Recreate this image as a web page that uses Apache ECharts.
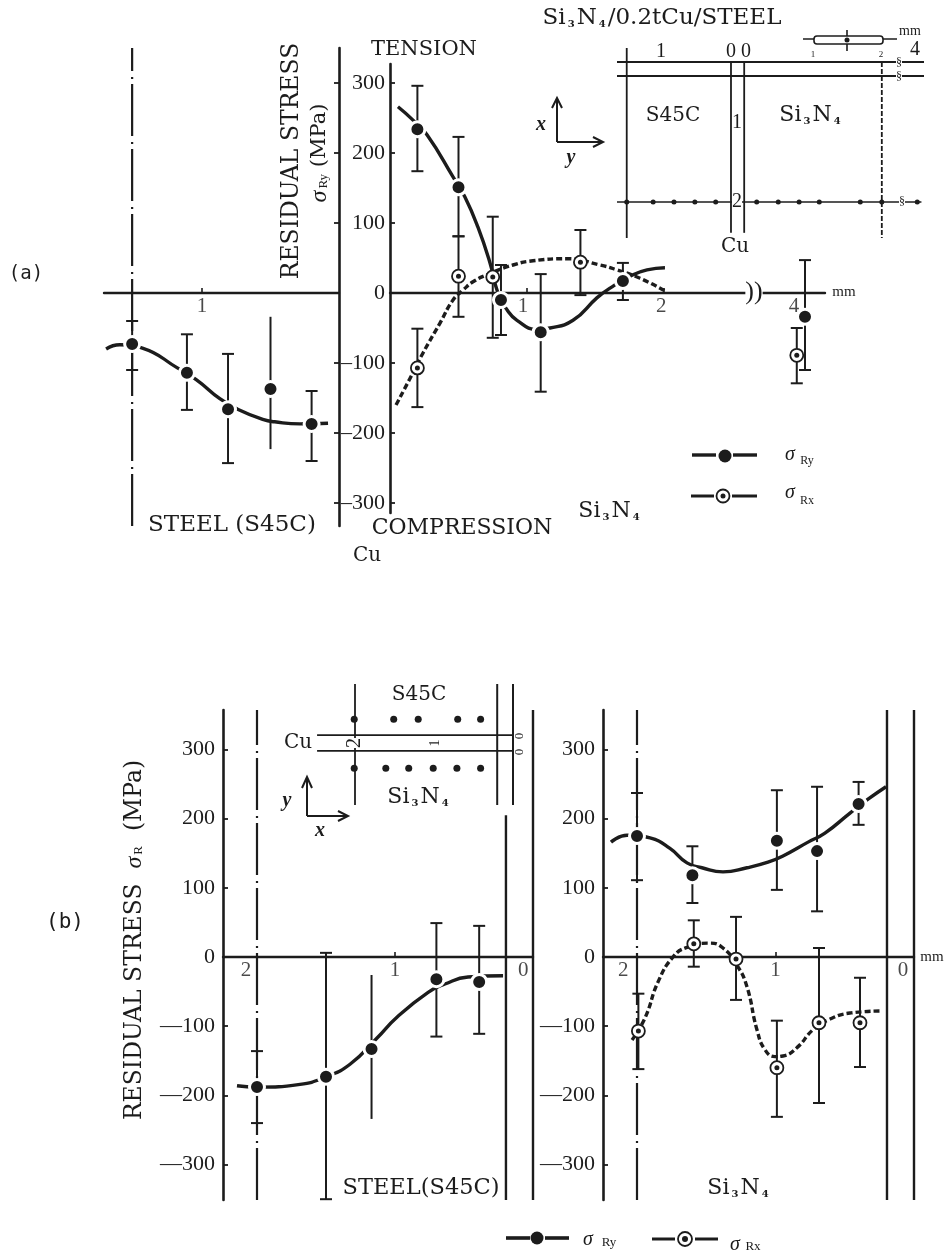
<!DOCTYPE html>
<html><head><meta charset="utf-8">
<style>html,body{margin:0;padding:0;background:#fff}#c{width:948px;height:1257px}</style>
<script src="https://cdn.jsdelivr.net/npm/echarts@6/dist/echarts.min.js"></script>
</head><body><div id="c"></div>
<script>
// ---------- axis labels ----------
const stressTicks = [-300,-200,-100,0,100,200,300];
const aLeftDistTicks = [1];
const aRightDistTicks = [1,2];
const aFarDistTicks = [4];
const bDistTicks = [1];
// where each distance number sits along its axis (printed slightly off its tick in the source)
const aLeftDistLabels = [1];
const aRightDistLabels = [0.97,1.98];
const aFarDistLabels = [3.92];
const bSteelDistLabels = [2.08,1,0.07];
const bSiDistLabels = [2.1,1,0.08];

// ---------- (a) steel side: sigma Ry ----------
const aSteelRyX    = [1.51,1.11,0.81,0.50,0.20];
const aSteelRyY    = [-73,-114,-166,-137,-187];
const aSteelRyLow  = [-110,-167,-243,-223,-240];
const aSteelRyHigh = [-40,-59,-87,-34,-140];
const aSteelRyCap  = [1,1,1,0,1];
const aSteelRyCurve = [[1.70,-80],[1.60,-74],[1.43,-79],[1.18,-107],[1.04,-124],[0.87,-151],[0.74,-166],[0.55,-181],[0.47,-184],[0.285,-187],[0.08,-186]];

// ---------- (a) Si3N4 side: sigma Ry ----------
const aSiRyX    = [0.20,0.50,0.81,1.10,1.70];
const aSiRyY    = [234,151,-10,-56,17];
const aSiRyLow  = [174,81,-60,-141,-10];
const aSiRyHigh = [296,223,40,27,43];
const aSiRyCurve = [[0.058,266],[0.168,247],[0.27,226],[0.46,166],[0.547,137],[0.642,94],[0.73,43],[0.788,0],[0.854,-24],[0.927,-39],[1.073,-52],[1.168,-50],[1.336,-39],[1.51,-7],[1.606,7],[1.774,26],[1.876,33],[2.007,36]];

// ---------- (a) Si3N4 side: sigma Rx ----------
const aSiRxX    = [0.20,0.50,0.75,1.39];
const aSiRxY    = [-107,24,23,44];
const aSiRxLow  = [-163,-34,-64,-3];
const aSiRxHigh = [-51,81,109,90];
const aSiRxCurve = [[0.044,-160],[0.146,-122],[0.24,-86],[0.365,-43],[0.46,-10],[0.533,4],[0.606,16],[0.708,26],[0.898,40],[1.044,46],[1.292,49],[1.533,40],[1.657,33],[1.825,21],[2.007,3]];

// ---------- (a) 4 mm points ----------
const aFarRyX = [4.0],  aFarRyY = [-34], aFarRyLow = [-110], aFarRyHigh = [47];
const aFarRxX = [3.94], aFarRxY = [-89], aFarRxLow = [-129], aFarRxHigh = [-50];

// ---------- (b) steel side: sigma Ry ----------
const bSteelRyX    = [2.0,1.5,1.17,0.70,0.39];
const bSteelRyY    = [-188,-173,-133,-32,-36];
const bSteelRyLow  = [-240,-350,-234,-115,-111];
const bSteelRyHigh = [-136,6,-26,49,45];
const bSteelRyCap  = [1,1,0,1,1];
const bSteelRyCurve = [[2.145,-186],[2.0,-188],[1.688,-184],[1.5,-173],[1.326,-155],[1.13,-117],[0.986,-87],[0.76,-51],[0.638,-39],[0.471,-29],[0.217,-27]];

// ---------- (b) Si3N4 side: sigma Ry ----------
const bSiRyX    = [2.0,1.6,0.99,0.70,0.40];
const bSiRyY    = [175,118,168,153,221];
const bSiRyLow  = [111,78,97,66,191];
const bSiRyHigh = [237,160,241,246,253];
const bSiRyCurve = [[2.188,166],[2.072,176],[1.906,172],[1.762,157],[1.639,136],[1.531,129],[1.379,123],[1.206,129],[1.054,137],[0.946,146],[0.765,166],[0.643,179],[0.462,208],[0.332,228],[0.202,246]];

// ---------- (b) Si3N4 side: sigma Rx ----------
const bSiRxX    = [1.99,1.59,1.285,0.99,0.686,0.39];
const bSiRxY    = [-107,19,-3,-160,-95,-95];
const bSiRxLow  = [-162,-14,-62,-231,-211,-159];
const bSiRxHigh = [-53,53,58,-92,13,-30];
const bSiRxCurve = [[2.036,-120],[1.942,-88],[1.848,-36],[1.74,0],[1.639,14],[1.473,20],[1.379,13],[1.278,-12],[1.206,-43],[1.134,-105],[1.076,-134],[1.004,-144],[0.946,-143],[0.845,-131],[0.729,-105],[0.621,-91],[0.462,-81],[0.231,-78]];

// ---------- inset specimen maps: measurement spots in mm ----------
const insetASpotsX = [-1.5,-1.12,-0.82,-0.52,-0.22,0.37,0.68,0.98,1.27,1.86,2.17,2.68];
const insetBTopX = [2.01,1.51,1.20,0.70,0.41];
const insetBBottomX = [2.01,1.61,1.32,1.01,0.71,0.41];

// ---------- drawing ----------
const ink = '#1c1c1c';
const SERIF = '"Liberation Serif",serif';
const WIDE = '"DejaVu Serif",serif';
const CHAIN = [52,5,2,6];
const series = [];
const pairs = (xs, ys) => xs.map((x,i)=>[x,ys[i]]);

function addLine(g, name, data, width, type){
  series.push({type:'line', name, xAxisIndex:g, yAxisIndex:g, data, symbol:'none', silent:true, z:2,
    lineStyle:{color:ink, width, type:type||'solid', cap:'butt'}});
}
function addCurve(g, name, data, dashed){
  series.push({type:'line', name, xAxisIndex:g, yAxisIndex:g, data, symbol:'none', smooth:0.5, silent:true, z:3,
    lineStyle:{color:ink, width:3.4, type:dashed?[6,3]:'solid', cap:'butt'}});
}
function addErr(g, name, xs, lows, highs, caps){
  series.push({type:'custom', name, xAxisIndex:g, yAxisIndex:g, z:4, silent:true,
    encode:{x:0,y:[1,2]},
    data:xs.map((x,i)=>[x,lows[i],highs[i],caps?caps[i]:1]),
    renderItem:(p,api)=>{
      const x=api.value(0), a=api.coord([x,api.value(1)]), b=api.coord([x,api.value(2)]);
      const st={stroke:ink,lineWidth:2}; const kids=[{type:'line',shape:{x1:a[0],y1:a[1],x2:b[0],y2:b[1]},style:st}];
      if(api.value(3)){ for(const q of [a,b]) kids.push({type:'line',shape:{x1:q[0]-6,y1:q[1],x2:q[0]+6,y2:q[1]},style:st}); }
      return {type:'group',children:kids};
    }});
}
function addRy(g, name, xs, ys){
  series.push({type:'scatter', name, xAxisIndex:g, yAxisIndex:g, data:pairs(xs,ys), symbolSize:15, z:6, silent:true,
    itemStyle:{color:ink,borderColor:'#fff',borderWidth:3,opacity:1}});
}
function addRx(g, name, xs, ys){
  series.push({type:'scatter', name, xAxisIndex:g, yAxisIndex:g, data:pairs(xs,ys), symbolSize:13, z:6, silent:true,
    itemStyle:{color:'#fff',borderColor:ink,borderWidth:1.8,opacity:1}});
  series.push({type:'scatter', name:name+' centre', xAxisIndex:g, yAxisIndex:g, data:pairs(xs,ys), symbolSize:5, z:7, silent:true,
    itemStyle:{color:ink,opacity:1}});
}
function addDistLabels(g, xs){
  series.push({type:'scatter', name:'distance labels '+g, xAxisIndex:g, yAxisIndex:g, data:xs.map(x=>[x,0]), symbolSize:0, z:8, silent:true,
    label:{show:true,position:'bottom',distance:3,color:ink,fontFamily:SERIF,fontSize:21,formatter:p=>String(Math.round(p.value[0]))}});
}

// grid index: 0 a-steel, 1 a-Si, 2 a-far, 3 b-steel, 4 b-Si, 5 inset A, 6 inset B
const AT=293, AS=0.7, BT=957, BS=0.692;
const grids = [
  {left:104,width:235,top:48,height:478},
  {left:390,width:363,top:64,height:449},
  {left:757,width:68,top:64,height:449},
  {left:223,width:310,top:710,height:490},
  {left:603,width:311,top:710,height:490},
  {left:617,width:307,top:48,height:190},
  {left:317,width:196,top:684,height:121}
];
const numFmt = dash => v => v<0 ? dash+(-v) : String(v);
const xAx = (min,max,inverse,ticks)=>({type:'value',min,max,inverse,
  axisLine:{show:true,onZero:true,lineStyle:{color:ink,width:2.4}},
  axisTick:{show:true,inside:true,length:5,customValues:ticks,lineStyle:{color:ink,width:1.6}},
  axisLabel:{show:false},
  splitLine:{show:false}});
const yAx = (min,max,position,showLabels,dash,margin)=>({type:'value',min,max,position,
  axisLine:{show:true,onZero:false,lineStyle:{color:ink,width:2.6}},
  axisTick:{show:true,inside:true,length:5,customValues:stressTicks,lineStyle:{color:ink,width:1.8}},
  axisLabel:{show:showLabels,customValues:stressTicks,margin,color:ink,fontFamily:SERIF,fontSize:22,formatter:numFmt(dash)},
  splitLine:{show:false}});
const hidden = (min,max,inverse)=>({type:'value',min,max,inverse:!!inverse,show:false,splitLine:{show:false}});

const aMax=(AT-48)/AS, aMin=(AT-526)/AS, a2Max=(AT-64)/AS, a2Min=(AT-513)/AS;
const bMax=(BT-710)/BS, bMin=(BT-1200)/BS;

const xAxes = [
  xAx(0,235/137,true,aLeftDistTicks),
  xAx(0,363/137,false,aRightDistTicks),
  xAx(4-48/137,4+20/137,false,aFarDistTicks),
  xAx(0,310/138,true,bDistTicks),
  xAx(0,311/138.5,true,bDistTicks),
  hidden(-1.64,2.777),
  hidden(0,196/79,true)
];
xAxes.forEach((a,i)=>a.gridIndex=i);
const yAxes = [
  yAx(aMin,aMax,'right',false,'–',6),
  yAx(a2Min,a2Max,'left',true,'–',5),
  hidden(a2Min,a2Max),
  yAx(bMin,bMax,'left',true,'—',8),
  yAx(bMin,bMax,'left',true,'—',8),
  hidden(-0.2,2.514,true),
  hidden(-0.785,0.747)
];
yAxes.forEach((a,i)=>a.gridIndex=i);

// ---- panel (a) ----
addLine(0,'steel reference line',[[1.51,aMin],[1.51,aMax]],2.2,CHAIN);
addCurve(0,'σRy steel (a)',aSteelRyCurve,false);
addErr(0,'σRy steel error (a)',aSteelRyX,aSteelRyLow,aSteelRyHigh,aSteelRyCap);
addRy(0,'σRy steel points (a)',aSteelRyX,aSteelRyY);
addDistLabels(0,aLeftDistLabels);
addCurve(1,'σRy Si3N4 (a)',aSiRyCurve,false);
addCurve(1,'σRx Si3N4 (a)',aSiRxCurve,true);
addErr(1,'σRy Si3N4 error (a)',aSiRyX,aSiRyLow,aSiRyHigh);
addErr(1,'σRx Si3N4 error (a)',aSiRxX,aSiRxLow,aSiRxHigh);
addRy(1,'σRy Si3N4 points (a)',aSiRyX,aSiRyY);
addRx(1,'σRx Si3N4 points (a)',aSiRxX,aSiRxY);
addDistLabels(1,aRightDistLabels);
addErr(2,'σRy 4mm error',aFarRyX,aFarRyLow,aFarRyHigh);
addErr(2,'σRx 4mm error',aFarRxX,aFarRxLow,aFarRxHigh);
addRy(2,'σRy 4mm',aFarRyX,aFarRyY);
addRx(2,'σRx 4mm',aFarRxX,aFarRxY);
addDistLabels(2,aFarDistLabels);

// ---- panel (b) ----
addLine(3,'chain line steel',[[2,bMin],[2,bMax]],2.2,CHAIN);
addLine(3,'steel interface',[[0.196,bMin],[0.196,205]],2.4);
addLine(3,'steel end',[[0,bMin],[0,bMax]],2.4);
addCurve(3,'σRy steel (b)',bSteelRyCurve,false);
addErr(3,'σRy steel error (b)',bSteelRyX,bSteelRyLow,bSteelRyHigh,bSteelRyCap);
addRy(3,'σRy steel points (b)',bSteelRyX,bSteelRyY);
addDistLabels(3,bSteelDistLabels);
addLine(4,'chain line Si3N4',[[2,bMin],[2,bMax]],2.2,CHAIN);
addLine(4,'Si3N4 interface',[[0.195,bMin],[0.195,bMax]],2.4);
addLine(4,'Si3N4 end',[[0,bMin],[0,bMax]],2.4);
addCurve(4,'σRy Si3N4 (b)',bSiRyCurve,false);
addCurve(4,'σRx Si3N4 (b)',bSiRxCurve,true);
addErr(4,'σRy Si3N4 error (b)',bSiRyX,bSiRyLow,bSiRyHigh);
addErr(4,'σRx Si3N4 error (b)',bSiRxX,bSiRxLow,bSiRxHigh);
addRy(4,'σRy Si3N4 points (b)',bSiRyX,bSiRyY);
addRx(4,'σRx Si3N4 points (b)',bSiRxX,bSiRxY);
addDistLabels(4,bSiDistLabels);

// ---- inset maps ----
addLine(5,'inset top edge',[[-1.64,0],[2.777,0]],1.8);
addLine(5,'inset second edge',[[-1.64,0.2],[2.777,0.2]],1.8);
addLine(5,'inset steel line',[[-1.5,-0.2],[-1.5,2.514]],1.8);
addLine(5,'inset Cu left',[[0,0],[0,2.44]],1.8);
addLine(5,'inset Cu right',[[0.19,0],[0.19,2.44]],1.8);
addLine(5,'inset chain',[[2.17,0],[2.17,2.514]],1.8,[5,2]);
addLine(5,'inset row',[[-1.64,2],[2.74,2]],1.4);
series.push({type:'scatter',name:'inset A spots',xAxisIndex:5,yAxisIndex:5,data:insetASpotsX.map(x=>[x,2]),symbolSize:5,z:5,silent:true,itemStyle:{color:ink,opacity:1}});
addLine(6,'inset B upper',[[2.48,0.10],[0,0.10]],1.8);
addLine(6,'inset B lower',[[2.48,-0.10],[0,-0.10]],1.8);
addLine(6,'inset B chain',[[2.0,-0.785],[2.0,0.747]],1.8);
addLine(6,'inset B Cu left',[[0.2,-0.785],[0.2,0.747]],2);
addLine(6,'inset B Cu right',[[0,-0.785],[0,0.747]],2);
series.push({type:'scatter',name:'inset B top spots',xAxisIndex:6,yAxisIndex:6,data:insetBTopX.map(x=>[x,0.30]),symbolSize:7,z:5,silent:true,itemStyle:{color:ink,opacity:1}});
series.push({type:'scatter',name:'inset B bottom spots',xAxisIndex:6,yAxisIndex:6,data:insetBBottomX.map(x=>[x,-0.32]),symbolSize:7,z:5,silent:true,itemStyle:{color:ink,opacity:1}});

// ---------- annotations ----------
const rich = {
  s:{fontFamily:WIDE,fontSize:10,fontWeight:'bold',color:ink,verticalAlign:'bottom',lineHeight:12,padding:[0,2,0,2]},
  g:{fontFamily:SERIF,fontStyle:'italic',fontSize:24,color:ink},
  r:{fontFamily:SERIF,fontSize:13,color:ink,padding:[7,0,0,2]}
};
const T=(x,y,text,font,size,o)=>Object.assign({type:'text',x,y,z:20,silent:true,
  style:Object.assign({text,fill:ink,font:`${(o&&o.it)||''} ${(o&&o.w)||''} ${size}px ${font}`,align:'center',verticalAlign:'middle',rich},(o&&o.st)||{})},
  (o&&o.el)||{});
const rot = a => ({el:{rotation:a}});
const L=(x1,y1,x2,y2,w)=>({type:'line',z:20,silent:true,shape:{x1,y1,x2,y2},style:{stroke:ink,lineWidth:w||2}});
const P=(points,w,fill)=>({type:'polyline',z:20,silent:true,shape:{points},style:{stroke:ink,lineWidth:w||2,fill:fill||'none'}});
const C=(cx,cy,r,fill,w)=>({type:'circle',z:21,silent:true,shape:{cx,cy,r},style:{fill,stroke:w?ink:'none',lineWidth:w||0}});

const graphic = [
  T(26,274,'(a)','"DejaVu Sans Mono"',19),
  T(65,923,'(b)','"DejaVu Sans Mono"',21),
  T(662,18,'Si{s|3}N{s|4}/0.2tCu/STEEL',WIDE,23),
  T(424,50,'TENSION',WIDE,21),
  T(292,161,'RESIDUAL STRESS',WIDE,23.5,rot(Math.PI/2)),
  T(320,153,'{g|σ}{r|Ry} (MPa)',WIDE,21,rot(Math.PI/2)),
  T(232,525,'STEEL (S45C)',WIDE,23),
  T(462,528,'COMPRESSION',WIDE,22),
  T(367,556,'Cu',WIDE,20),
  T(610,511,'Si{s|3}N{s|4}',WIDE,22),
  T(844,292,'mm',SERIF,15),
  T(754,292,'))',SERIF,26,{st:{backgroundColor:'#fff'}}),
  // inset A
  T(673,116,'S45C',WIDE,20),
  T(811,115,'Si{s|3}N{s|4}',WIDE,22),
  T(735,247,'Cu',WIDE,20),
  T(661,52,'1',SERIF,20),
  T(731,52,'0',SERIF,20),
  T(746,52,'0',SERIF,20),
  T(737,123,'1',SERIF,20),
  T(737,202,'2',SERIF,20,{st:{backgroundColor:'#fff'}}),
  T(813,55,'1',SERIF,9),
  T(881,55,'2',SERIF,9),
  T(915,50,'4',SERIF,20),
  T(910,31,'mm',SERIF,14),
  T(899,63,'§',SERIF,12,{st:{backgroundColor:'#fff'}}),
  T(899,77,'§',SERIF,12,{st:{backgroundColor:'#fff'}}),
  T(902,202,'§',SERIF,12,{st:{backgroundColor:'#fff'}}),
  L(803,39,897,39,1.6),
  {type:'rect',z:21,silent:true,shape:{x:814,y:36,width:69,height:8,r:3},style:{fill:'#fff',stroke:ink,lineWidth:1.6}},
  L(847,30,847,51,1.6),
  C(847,40,2.5,ink),
  P([[557,142],[557,99]],2), P([[552,108],[557,98],[562,108]],2),
  P([[557,142],[602,142]],2), P([[593,137],[603,142],[593,147]],2),
  T(541,125,'x',SERIF,20,{it:'italic',w:'bold'}),
  T(571,158,'y',SERIF,20,{it:'italic',w:'bold'}),
  // legend (a)
  L(692,455,716,455,3.4), L(733,455,757,455,3.4), C(725,456,6.5,ink),
  T(790,455,'σ',SERIF,20,{it:'italic'}), T(807,461,'Ry',SERIF,12),
  L(691,496,714,496,3), L(732,496,757,496,3), C(723,496,6.5,'#fff',1.8), C(723,496,2.5,ink),
  T(790,493,'σ',SERIF,20,{it:'italic'}), T(807,501,'Rx',SERIF,12),
  // panel (b)
  T(135,940,'RESIDUAL STRESS  {g|σ}{r|R}  (MPa)',WIDE,23.5,rot(Math.PI/2)),
  T(421,1188,'STEEL(S45C)',WIDE,22.5),
  T(739,1188,'Si{s|3}N{s|4}',WIDE,22),
  T(932,957,'mm',SERIF,15),
  // inset B
  T(419,695,'S45C',WIDE,20),
  T(419,797,'Si{s|3}N{s|4}',WIDE,22),
  T(298,743,'Cu',WIDE,20),
  T(355,743,'2',SERIF,20,{el:{rotation:Math.PI/2},st:{backgroundColor:'#fff'}}),
  T(435,743,'1',SERIF,14,rot(Math.PI/2)),
  T(520,736,'0',SERIF,13,rot(Math.PI/2)),
  T(520,752,'0',SERIF,13,rot(Math.PI/2)),
  P([[307,816],[307,779]],2), P([[302,788],[307,777],[312,788]],2),
  P([[307,816],[346,816]],2), P([[338,811],[348,816],[338,821]],2),
  T(287,801,'y',SERIF,20,{it:'italic',w:'bold'}),
  T(320,831,'x',SERIF,20,{it:'italic',w:'bold'}),
  // legend (b)
  L(506,1238,530,1238,3.6), L(545,1238,569,1238,3.6), C(537,1238,6.5,ink),
  T(588,1240,'σ',SERIF,20,{it:'italic'}), T(609,1243,'Ry',SERIF,13),
  L(652,1239,675,1239,3), L(695,1239,718,1239,3), C(685,1239,7,'#fff',1.8), C(685,1239,3,ink),
  T(735,1245,'σ',SERIF,20,{it:'italic'}), T(753,1247,'Rx',SERIF,13)
];

const chart = echarts.init(document.getElementById('c'),null,{renderer:'canvas'});
chart.setOption({animation:false,backgroundColor:'#fff',tooltip:{show:false},
  grid:grids,xAxis:xAxes,yAxis:yAxes,series,graphic});
</script></body></html>
